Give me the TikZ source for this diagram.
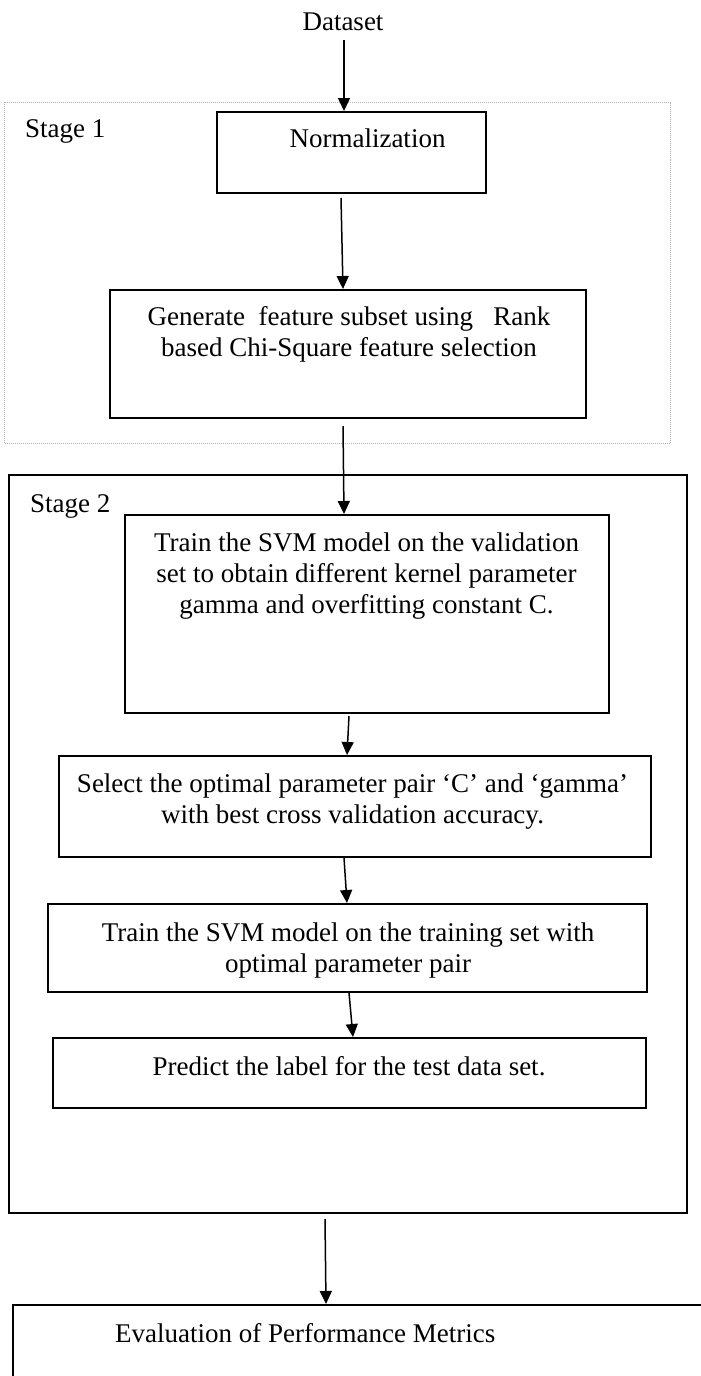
\documentclass[tikz,border=0pt]{standalone}
\usepackage{fontspec}
\setmainfont{Liberation Serif}
\usetikzlibrary{arrows.meta}
\begin{document}
\begin{tikzpicture}[x=1pt,y=-1pt,
  every node/.style={font=\fontsize{27}{31}\selectfont, inner sep=0pt},
  box/.style 2 args={draw, line width=2pt, minimum width=#1, minimum height=#2},
  stageone/.style 2 args={draw=gray!60, densely dotted, line width=1pt, minimum width=#1, minimum height=#2},
  stagetwo/.style 2 args={draw, line width=2pt, minimum width=#1, minimum height=#2},
  arr/.style={-{Triangle[length=13pt,width=12pt]}, line width=1.5pt},
  lbl/.style={anchor=base, align=center}]
\path[use as bounding box] (0,0) rectangle (701,1376);
\clip (0,0) rectangle (701,1376);

% stage frames
\node[stageone={665.5}{341}] (stage1) at (337.25,272.5) {};
\node[stagetwo={678.5}{738}] (stage2) at (347.75,844) {};

% labels
\node[anchor=base] (dataset) at (343,30) {Dataset};
\node[anchor=base west] (s1label) at (25,137) {Stage 1};
\node[anchor=base west] (s2label) at (30,512) {Stage 2};

% boxes
\node[box={269}{81}] (norm) at (351.5,152.5) {};
\node[box={476}{128}] (gen) at (348,354) {};
\node[box={484}{198}] (train1) at (367,614) {};
\node[box={592}{101}] (select) at (355,806.5) {};
\node[box={599}{88}] (train2) at (347.5,948) {};
\node[box={593}{70}] (predict) at (349.5,1073) {};
\node[box={747}{115}] (eval) at (386.5,1362.5) {};

% texts (base anchor = baseline of the last line)
\node[lbl] (normtext) at (367.5,147) {Normalization};
\node[lbl] (gentext) at (349,356) {Generate\ \ feature subset using\ \ \ Rank\\based Chi-Square feature selection};
\node[lbl] (t1text) at (366.5,613) {Train the SVM model on the validation\\set to obtain different kernel parameter\\gamma and overfitting constant C.};
\node[lbl] (seltext) at (352.5,823) {Select the optimal parameter pair ‘C’ and ‘gamma’\\with best cross validation accuracy.};
\node[lbl] (t2text) at (348,972) {Train the SVM model on the training set with\\optimal parameter pair};
\node[lbl] (predtext) at (349,1075) {Predict the label for the test data set.};
\node[anchor=base west] (evaltext) at (115,1342) {Evaluation of Performance Metrics};

% connectors
\draw[arr] ([shift={(1,10)}]dataset.south) -- ([xshift=-7.5]norm.north);
\draw[arr] ([shift={(-10.5,4)}]norm.south) -- ([xshift=-5]gen.north);
\draw[arr] ([shift={(-5,7)}]gen.south) -- ([xshift=-23]train1.north);
\draw[arr] ([shift={(-18,2)}]train1.south) -- ([xshift=-8]select.north);
\draw[arr] ([shift={(-11,0)}]select.south) -- ([xshift=-0.5]train2.north);
\draw[arr] ([shift={(1.5,0)}]train2.south) -- ([xshift=3.5]predict.north);
\draw[arr] ([shift={(-22.75,5)}]stage2.south) -- ([xshift=-60.5]eval.north);
\end{tikzpicture}
\end{document}
